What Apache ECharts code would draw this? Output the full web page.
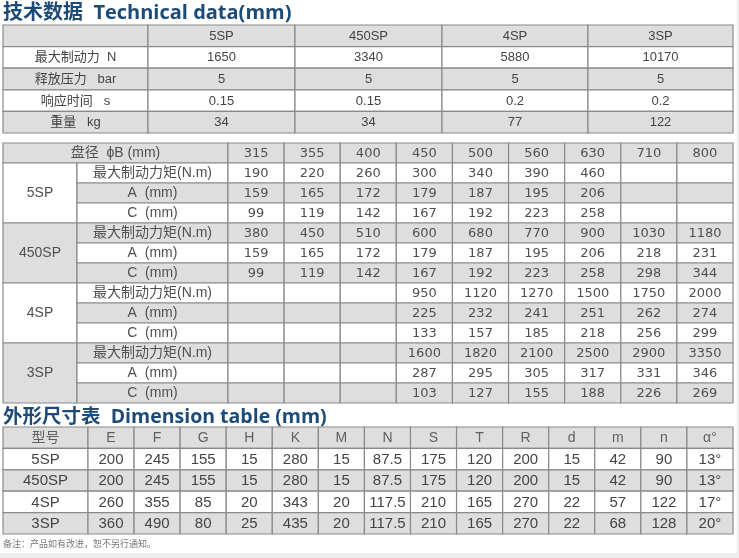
<!DOCTYPE html>
<html><head><meta charset="utf-8">
<script src="https://cdn.jsdelivr.net/npm/echarts@6.0.0/dist/echarts.min.js"></script>
<style>html,body{margin:0;padding:0;background:#fff}#c{width:739px;height:558px}</style>
</head><body><div id="c"></div>
<script>
// ---------------- data ----------------
// Table 1: Technical data
const specModels = ['5SP', '450SP', '4SP', '3SP'];
const specRowLabels = ['最大制动力  N', '释放压力   bar', '响应时间   s', '重量   kg'];
const specBrakeForce = ['1650', '3340', '5880', '10170'];
const specReleasePressure = ['5', '5', '5', '5'];
const specResponseTime = ['0.15', '0.15', '0.2', '0.2'];
const specWeight = ['34', '34', '77', '122'];

// Table 2: disc diameter table
const discHeader = '盘径  ϕB (mm)';
const discDiameters = ['315', '355', '400', '450', '500', '560', '630', '710', '800'];
const discModels = ['5SP', '450SP', '4SP', '3SP'];
const discRowLabels = ['最大制动力矩(N.m)', 'A  (mm)', 'C  (mm)'];
const torque5SP   = ['190', '220', '260', '300', '340', '390', '460', '', ''];
const a5SP        = ['159', '165', '172', '179', '187', '195', '206', '', ''];
const c5SP        = ['99', '119', '142', '167', '192', '223', '258', '', ''];
const torque450SP = ['380', '450', '510', '600', '680', '770', '900', '1030', '1180'];
const a450SP      = ['159', '165', '172', '179', '187', '195', '206', '218', '231'];
const c450SP      = ['99', '119', '142', '167', '192', '223', '258', '298', '344'];
const torque4SP   = ['', '', '', '950', '1120', '1270', '1500', '1750', '2000'];
const a4SP        = ['', '', '', '225', '232', '241', '251', '262', '274'];
const c4SP        = ['', '', '', '133', '157', '185', '218', '256', '299'];
const torque3SP   = ['', '', '', '1600', '1820', '2100', '2500', '2900', '3350'];
const a3SP        = ['', '', '', '287', '295', '305', '317', '331', '346'];
const c3SP        = ['', '', '', '103', '127', '155', '188', '226', '269'];

// Table 3: Dimension table
const dimHeaders = ['型号', 'E', 'F', 'G', 'H', 'K', 'M', 'N', 'S', 'T', 'R', 'd', 'm', 'n', 'α°'];
const dimModels = ['5SP', '450SP', '4SP', '3SP'];
const dim5SP   = ['200', '245', '155', '15', '280', '15', '87.5', '175', '120', '200', '15', '42', '90', '13°'];
const dim450SP = ['200', '245', '155', '15', '280', '15', '87.5', '175', '120', '200', '15', '42', '90', '13°'];
const dim4SP   = ['260', '355', '85', '20', '343', '20', '117.5', '210', '165', '270', '22', '57', '122', '17°'];
const dim3SP   = ['360', '490', '80', '25', '435', '20', '117.5', '210', '165', '270', '22', '68', '128', '20°'];

const title1 = '技术数据  Technical data(mm)';
const title2 = '外形尺寸表  Dimension table (mm)';
const footnote = '备注：产品如有改进，恕不另行通知。';

// ---------------- styles / layout ----------------
const GRAY = '#dedede', WHITE = '#ffffff', BORDER = '#8a8a8a';
const CJK = '"Noto Sans CJK SC"';
const F1 = '13px "Liberation Sans", Arial, ' + CJK;
const F2N = '13px "DejaVu Sans", ' + CJK;
const F2L = '14px "Liberation Sans", ' + CJK;
const F3 = '15px "Liberation Sans", ' + CJK;
const F3H = '14px "Liberation Sans", ' + CJK;

function edgesOf(widths) { const e = [0]; widths.forEach(w => e.push(e[e.length - 1] + w)); return e; }
const W1 = [145, 147, 147, 146, 145];
const W2 = [74, 151].concat(Array(9).fill(505 / 9));
const W3 = [85].concat(Array(14).fill(645 / 14));
const E1 = edgesOf(W1), E2 = edgesOf(W2), E3 = edgesOf(W3);

function cell(E, c0, c1, r0, r1, text, gray, font, color) {
  return { x0: E[c0], x1: E[c1], r0: r0, r1: r1, text: String(text), gray: gray, font: font, color: color || '#444' };
}

// Table 1 cells
const t1 = [];
t1.push(cell(E1, 0, 1, 0, 1, '', true, F1));
specModels.forEach((m, i) => t1.push(cell(E1, i + 1, i + 2, 0, 1, m, true, F1)));
[specBrakeForce, specReleasePressure, specResponseTime, specWeight].forEach((row, r) => {
  const g = (r + 1) % 2 === 0;
  t1.push(cell(E1, 0, 1, r + 1, r + 2, specRowLabels[r], g, F1));
  row.forEach((v, i) => t1.push(cell(E1, i + 1, i + 2, r + 1, r + 2, v, g, F1)));
});

// Table 2 cells
const t2 = [];
t2.push(cell(E2, 0, 2, 0, 1, discHeader, true, F2L, '#505050'));
discDiameters.forEach((d, i) => t2.push(cell(E2, i + 2, i + 3, 0, 1, d, true, F2N, '#505050')));
const discGroups = [[torque5SP, a5SP, c5SP], [torque450SP, a450SP, c450SP], [torque4SP, a4SP, c4SP], [torque3SP, a3SP, c3SP]];
discGroups.forEach((grp, g) => {
  const r0 = 1 + g * 3;
  t2.push(cell(E2, 0, 1, r0, r0 + 3, discModels[g], g % 2 === 1, F2L, '#505050'));
  grp.forEach((row, k) => {
    const r = r0 + k;
    const gr = (g * 3 + k) % 2 === 1;
    t2.push(cell(E2, 1, 2, r, r + 1, discRowLabels[k], gr, F2L, '#505050'));
    row.forEach((v, i) => t2.push(cell(E2, i + 2, i + 3, r, r + 1, v, gr, F2N, '#505050')));
  });
});

// Table 3 cells
const t3 = [];
dimHeaders.forEach((h, i) => t3.push(cell(E3, i, i + 1, 0, 1, h, true, F3H, '#606060')));
[dim5SP, dim450SP, dim4SP, dim3SP].forEach((row, r) => {
  const g = (r + 1) % 2 === 0;
  t3.push(cell(E3, 0, 1, r + 1, r + 2, dimModels[r], g, F3));
  row.forEach((v, i) => t3.push(cell(E3, i + 1, i + 2, r + 1, r + 2, v, g, F3)));
});

const tables = [
  { cells: t1, E: E1, rows: 5, top: 25, height: 108 },
  { cells: t2, E: E2, rows: 13, top: 143, height: 260 },
  { cells: t3, E: E3, rows: 5, top: 427, height: 107 }
];

function makeRender(tbl) {
  return function (params, api) {
    const c = tbl.cells[params.dataIndex];
    const p0 = api.coord([api.value(0), api.value(2)]);
    const p1 = api.coord([api.value(1), api.value(3)]);
    return {
      type: 'group',
      children: [
        { type: 'rect', shape: { x: p0[0], y: p0[1], width: p1[0] - p0[0], height: p1[1] - p0[1] },
          style: { fill: c.gray ? GRAY : WHITE, stroke: BORDER, lineWidth: 1.2 } },
        { type: 'text', x: (p0[0] + p1[0]) / 2, y: (p0[1] + p1[1]) / 2 + 0.5,
          style: { text: c.text, fill: c.color, font: c.font, align: 'center', verticalAlign: 'middle' } }
      ]
    };
  };
}

const TITLE_STYLE = { fontSize: 20, fontWeight: 'bold', color: '#1d4b78', fontFamily: '"Open Sans", ' + CJK };
const TITLE_STYLE2 = Object.assign({}, TITLE_STYLE, { fontSize: 19.5 });

const option = {
  backgroundColor: '#ffffff',
  animation: false,
  graphic: [
    { type: 'rect', left: 0, top: 553, shape: { width: 739, height: 5 }, style: { fill: '#eeeeee' }, silent: true },
    { type: 'rect', left: 737, top: 0, shape: { width: 2, height: 558 }, style: { fill: '#eeeeee' }, silent: true }
  ],
  title: [
    { text: title1, left: 3, top: 3, padding: 0, textStyle: TITLE_STYLE },
    { text: title2, left: 3, top: 408, padding: 0, textStyle: TITLE_STYLE2 },
    { text: footnote, left: 3, top: 539, padding: 0,
      textStyle: { fontSize: 9, fontWeight: 'normal', color: '#777', fontFamily: CJK } }
  ],
  grid: tables.map(t => ({ left: 3, top: t.top, width: 730, height: t.height })),
  xAxis: tables.map((t, i) => ({ type: 'value', gridIndex: i, min: 0, max: t.E[t.E.length - 1], show: false })),
  yAxis: tables.map((t, i) => ({ type: 'value', gridIndex: i, min: 0, max: t.rows, inverse: true, show: false })),
  series: tables.map((t, i) => ({
    type: 'custom', xAxisIndex: i, yAxisIndex: i, clip: false,
    renderItem: makeRender(t),
    data: t.cells.map(c => [c.x0, c.x1, c.r0, c.r1])
  }))
};

const chart = echarts.init(document.getElementById('c'));
chart.setOption(option);
</script>
</body></html>
